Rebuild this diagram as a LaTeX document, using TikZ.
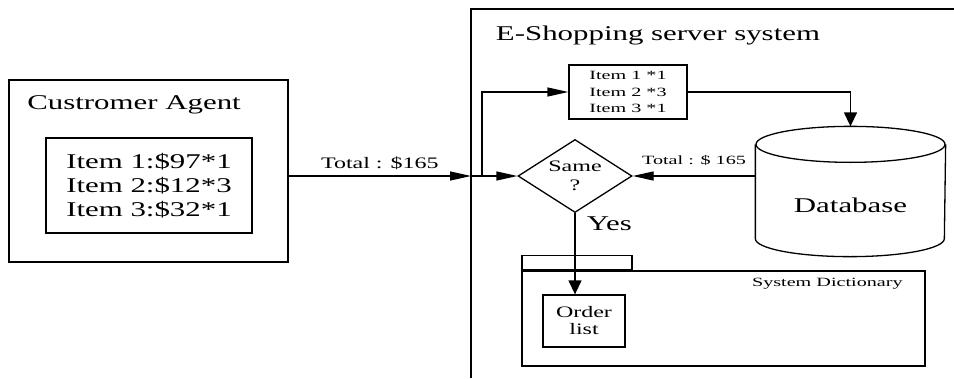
\documentclass[tikz,border=0pt]{standalone}
\usepackage{fontspec}
\setmainfont{Liberation Serif}[FakeStretch=1.47]
\newfontfamily\midserif{Liberation Serif}[FakeStretch=1.5]
\newfontfamily\smallserif{Liberation Serif}[FakeStretch=1.6]
\usetikzlibrary{arrows.meta,positioning,shapes.geometric}

\begin{document}
\begin{tikzpicture}[x=1pt,y=-1pt,line width=1.3pt,
  bigtext/.style={font=\fontsize{21}{24}\selectfont},
  midtext/.style={font=\midserif\fontsize{16}{19}\selectfont},
  smalltext/.style={font=\smallserif\fontsize{12.6}{16.5}\selectfont},
  box/.style={draw, inner sep=2pt, align=center},
  harrow/.style={-{Triangle[length=21pt,width=9pt]}},
  varrow/.style={-{Triangle[length=14pt,width=13pt]}}]
\useasboundingbox (0,0) rectangle (954,378);

% customer side
\node[box, minimum width=279pt, minimum height=182pt] (agent) at (148.5,171) {};
\node[bigtext, anchor=base west] (agenttitle) at ([xshift=15pt,yshift=-30pt]agent.north west) {Custromer Agent};
\node[box, bigtext, minimum width=206pt, minimum height=95pt] (cart) at (149,185.5) {Item 1:\$97*1\\Item 2:\$12*3\\Item 3:\$32*1};

% server side
\coordinate (srvnw) at (471,9);
\draw (471,378) -- (srvnw) -- (954,9);
\node[bigtext, anchor=base west] (srvtitle) at ([xshift=21pt,yshift=-31pt]srvnw) {E-Shopping server system};
\node[box, smalltext, minimum width=118pt, minimum height=54pt] (items) at (628,92) {Item 1 *1\\Item 2 *3\\Item 3 *1};
\node[diamond, draw, midtext, aspect=1.56, minimum width=114pt, minimum height=73pt, inner sep=0pt, align=center] (same) at (575,176) {Same\\?};

% database
\node[minimum width=189pt, minimum height=129pt, inner sep=0pt] (db) at (850.5,191.5) {};
\draw ([yshift=-18pt]db.north west) -- ([yshift=18pt]db.south west)
  arc[start angle=180, end angle=360, x radius=94.5pt, y radius=18pt] -- ([yshift=-18pt]db.north east);
\draw ([yshift=-18pt]db.north) ellipse [x radius=94.5pt, y radius=18pt];
\node[bigtext] (dblabel) at ([yshift=-14pt]db.center) {Database};

% dictionary folder
\node[box, minimum width=403pt, minimum height=95pt] (dict) at (723.5,318.5) {};
\node[box, minimum width=110pt, minimum height=14pt, anchor=south west] (dicttab) at (dict.north west) {};
\node[smalltext, anchor=base east] (dictlabel) at ([xshift=-19pt,yshift=-16pt]dict.north east) {System Dictionary};
\node[box, midtext, minimum width=82pt, minimum height=52pt] (order) at (584,321) {Order\\[-2pt]list};

\coordinate (gate) at (471,176);
\coordinate (split) at (482,176);

\draw[harrow] (agent.east |- gate) -- (gate) node[midway, above=2pt, midtext] {Total : \$165};
\draw[harrow] (gate) -- (same.west);
\draw[harrow] (split) |- (items.west);
\draw[varrow] (items.east) -| (db.north);
\draw[harrow] (db.west |- same) -- (same.east) node[midway, above=7pt, smalltext] {Total : \$ 165};
\draw[varrow] (same.south) -- (same.south |- order.north) node[pos=0.13, right=8pt, bigtext] {Yes};
\end{tikzpicture}
\end{document}
